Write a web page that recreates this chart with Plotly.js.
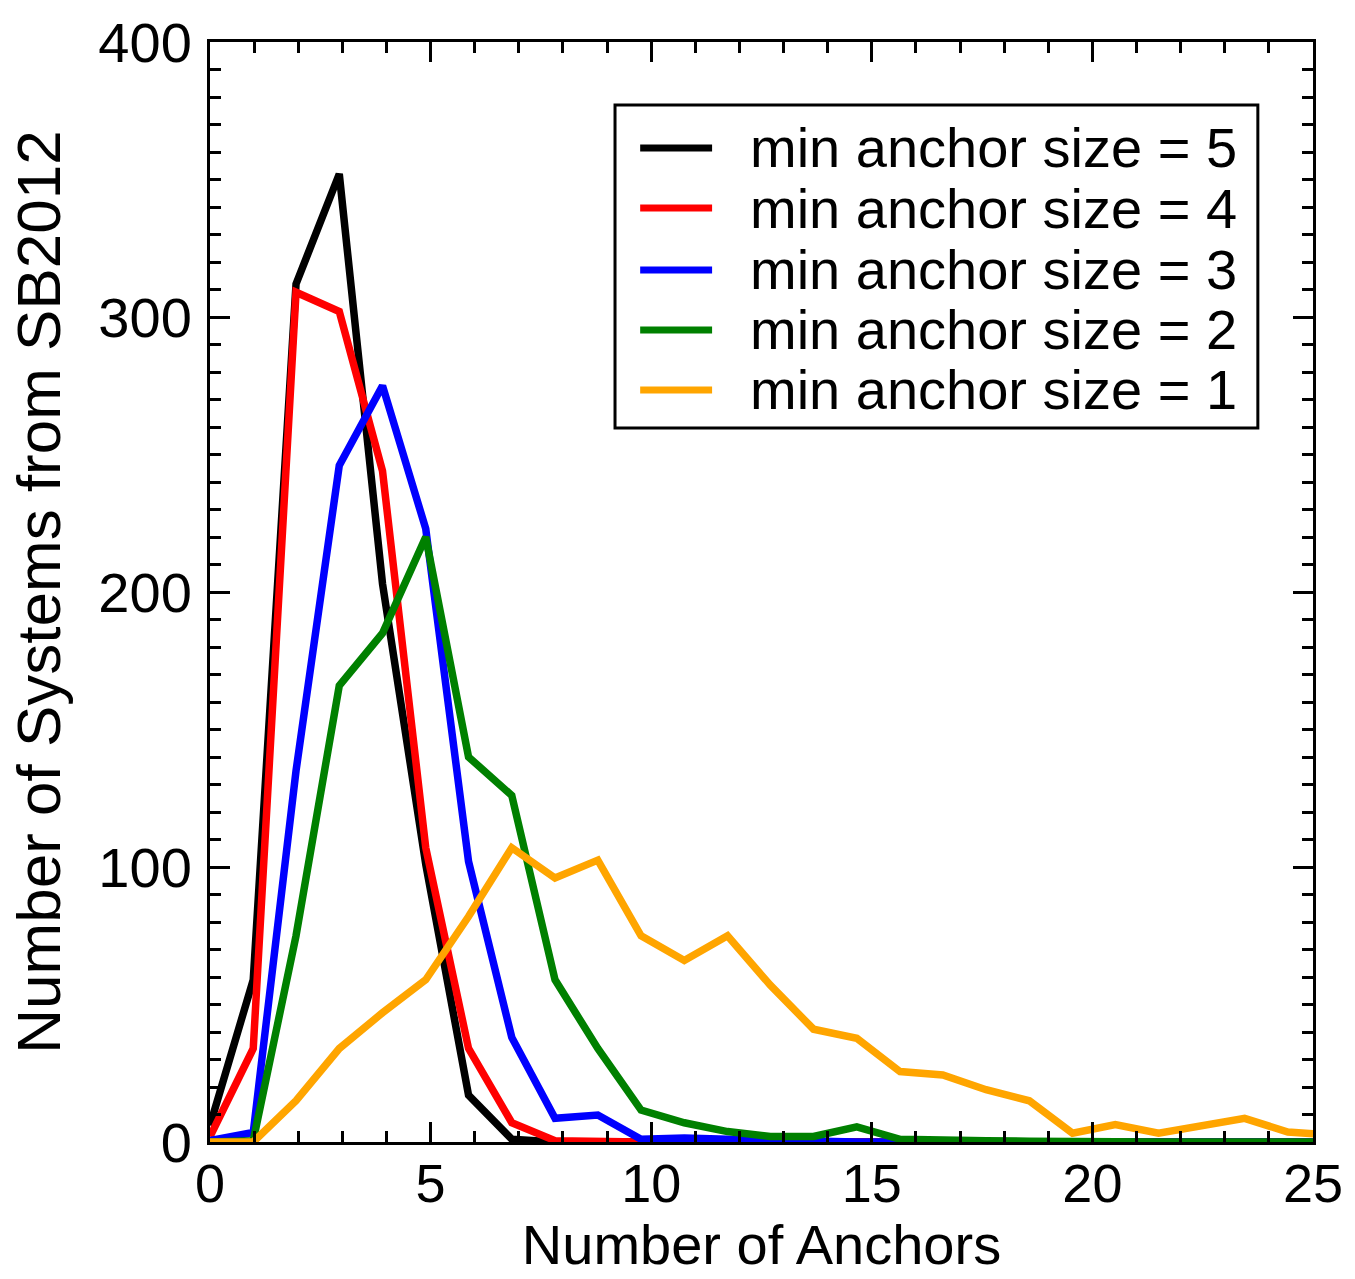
<!DOCTYPE html>
<html>
<head>
<meta charset="utf-8">
<script src="https://cdn.plot.ly/plotly-3.0.1.min.js"></script>
<style>
  html, body { margin: 0; padding: 0; background: #fff; }
  #chart { width: 1355px; height: 1279px; }
</style>
</head>
<body>
<div id="chart"></div>
<script>
// x positions of the points
var anchors = [0, 0.98, 1.95, 2.93, 3.91, 4.89, 5.86, 6.84, 7.82, 8.79, 9.77, 10.75, 11.73, 12.7,
               13.68, 14.66, 15.64, 16.61, 17.59, 18.57, 19.55, 20.52, 21.5, 22.48, 23.45, 24.43, 25.41];

var size5 = [6, 59, 312, 352, 203, 101, 17, 1, 0, 0, 0, 0, 0, 0, 0, 0, 0, 0, 0, 0, 0, 0, 0, 0, 0, 0, 0];
var size4 = [2, 34, 309, 302, 244, 107, 34, 7, 0.5, 0, 0, 0, 0, 0, 0, 0, 0, 0, 0, 0, 0, 0, 0, 0, 0, 0, 0];
var size3 = [0.5, 3.5, 135, 246, 275, 223, 102, 38, 8.6, 9.8, 1, 1.5, 1, 0.5, 0, 0, 0, 0, 0, 0, 0, 0, 0, 0, 0, 0, 0];
var size2 = [0, 0.5, 75, 166, 185, 220, 140, 126, 59, 34, 11.6, 7, 3.8, 2, 2, 5.5, 1, 0.5, 0.5, 0.3, 0, 0, 0, 0, 0, 0, 0];
var size1 = [0, 0, 15, 34, 47, 59, 82, 107, 96, 102.5, 75, 66, 75, 57, 41, 37.7, 25.6, 24.4, 19, 15,
             3.2, 6.3, 3.2, 5.6, 8.6, 3.6, 2.5];

var seriesNames = ["min anchor size = 5", "min anchor size = 4", "min anchor size = 3",
                   "min anchor size = 2", "min anchor size = 1"];
var seriesValues = [size5, size4, size3, size2, size1];
var seriesColors = ["#000000", "#ff0000", "#0000ff", "#008000", "#ffa500"];

var xTickVals = [0, 5, 10, 15, 20, 25];
var yTickVals = [0, 100, 200, 300, 400];

var FONT = "Liberation Sans, Arial, Helvetica, sans-serif";

var traces = seriesValues.map(function (vals, i) {
  return {
    type: "scatter",
    mode: "lines",
    x: anchors,
    y: vals,
    name: seriesNames[i],
    line: { color: seriesColors[i], width: 7.5 },
    showlegend: false,
    hoverinfo: "x+y+name"
  };
});

// custom legend (box, sample lines, labels) in data coordinates
var legRowsY = [361.5, 339.6, 317.1, 295.3, 273.5];
var shapes = [{
  type: "rect", xref: "x", yref: "y",
  x0: 9.18, x1: 23.75, y0: 259.6, y1: 377.1,
  line: { color: "#000", width: 3 }, fillcolor: "#fff", layer: "below"
}];
var annotations = [];
seriesNames.forEach(function (nm, i) {
  shapes.push({
    type: "line", xref: "x", yref: "y",
    x0: 9.75, x1: 11.38, y0: legRowsY[i], y1: legRowsY[i],
    line: { color: seriesColors[i], width: 7 }
  });
  annotations.push({
    xref: "x", yref: "y", x: 12.2, y: legRowsY[i],
    xanchor: "left", yanchor: "middle", showarrow: false,
    text: nm, font: { family: FONT, size: 56, color: "#000" }
  });
});

var layout = {
  width: 1355, height: 1279,
  margin: { l: 210, r: 42, t: 42, b: 137 },
  paper_bgcolor: "#fff", plot_bgcolor: "#fff",
  showlegend: false,
  font: { family: FONT, color: "#000" },
  xaxis: {
    range: [0, 25],
    tickvals: xTickVals,
    ticktext: xTickVals.map(String),
    ticks: "inside", ticklen: 20, tickwidth: 3, tickcolor: "#000",
    minor: { dtick: 1, ticks: "inside", ticklen: 11, tickwidth: 3, tickcolor: "#000", showgrid: false },
    showline: true, linewidth: 3, linecolor: "#000", mirror: "allticks",
    showgrid: false, zeroline: false,
    tickfont: { family: FONT, size: 54, color: "#000" },
    ticklabelstandoff: -8,
    title: { text: "Number of Anchors", font: { family: FONT, size: 56, color: "#000" }, standoff: 12 }
  },
  yaxis: {
    range: [0, 400],
    tickvals: yTickVals,
    ticktext: yTickVals.map(String),
    ticks: "inside", ticklen: 20, tickwidth: 3, tickcolor: "#000",
    minor: { dtick: 10, ticks: "inside", ticklen: 11, tickwidth: 3, tickcolor: "#000", showgrid: false },
    showline: true, linewidth: 3, linecolor: "#000", mirror: "allticks",
    showgrid: false, zeroline: false,
    tickfont: { family: FONT, size: 56, color: "#000" },
    ticklabelstandoff: 4,
    title: { text: "Number of Systems from SB2012", font: { family: FONT, size: 62, color: "#000" }, standoff: 18 }
  },
  shapes: shapes,
  annotations: annotations
};

Plotly.newPlot("chart", traces, layout, { displayModeBar: false, staticPlot: true });
</script>
</body>
</html>
